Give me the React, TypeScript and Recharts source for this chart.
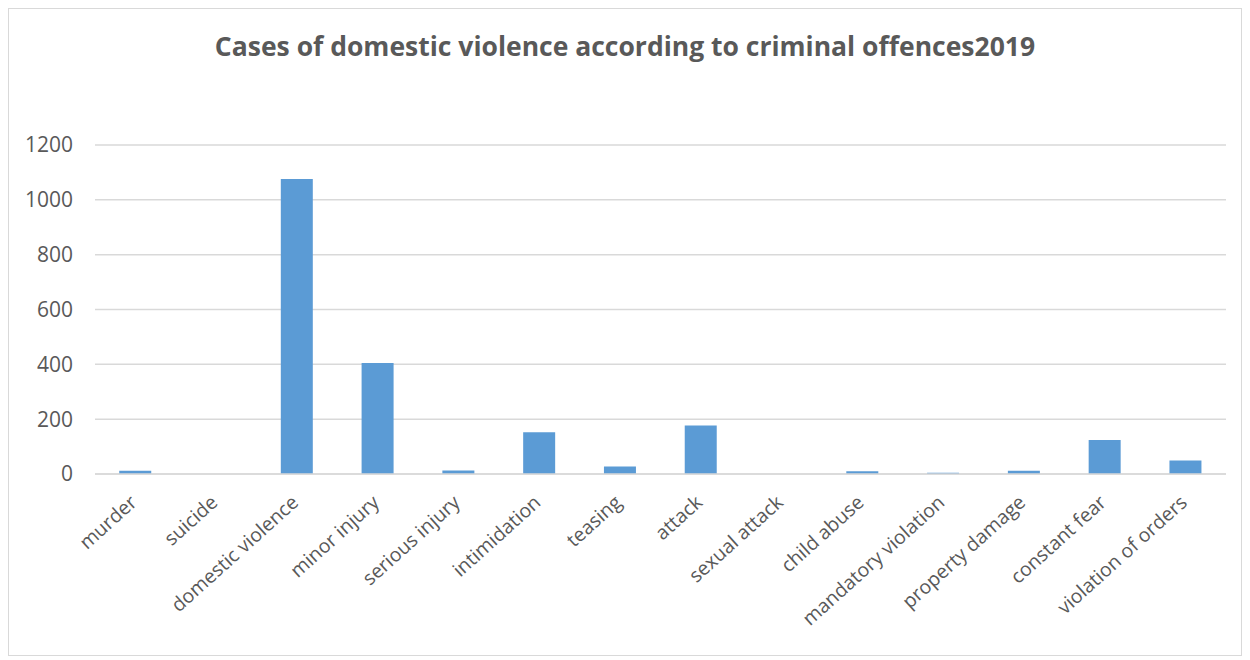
import React from "react";
import { Bar, BarChart, CartesianGrid, XAxis, YAxis } from "recharts";

const categories = [
  "murder",
  "suicide",
  "domestic violence",
  "minor injury",
  "serious injury",
  "intimidation",
  "teasing",
  "attack",
  "sexual attack",
  "child abuse",
  "mandatory violation",
  "property damage",
  "constant fear",
  "violation of orders",
];
const cases = [12, 0, 1076, 405, 13, 152, 27, 177, 0, 10, 5, 12, 124, 49];
const yTicks = [0, 200, 400, 600, 800, 1000, 1200];

const data = categories.map((name, i) => ({ name, cases: cases[i] }));

const FONT = "'Open Sans', 'Noto Sans', sans-serif";
const TEXT = "#595959";

function AngledTick({ x, y, payload }: any) {
  return (
    <g transform={`translate(${x - 2},${y + 17})`}>
      <text textAnchor="end" transform="rotate(-42)" fontSize={19.5} fill={TEXT} fontFamily={FONT} dy={7}>
        {payload.value}
      </text>
    </g>
  );
}

export default function App() {
  return (
    <div
      style={{
        position: "relative",
        width: 1232,
        height: 646,
        border: "1px solid #d9d9d9",
        background: "#fff",
      }}
    >
      <div
        style={{
          position: "absolute",
          top: 19,
          left: 0,
          width: "100%",
          textAlign: "center",
          fontFamily: FONT,
          fontWeight: 700,
          fontSize: 26.5,
          color: TEXT,
        }}
      >
        Cases of domestic violence according to criminal offences2019
      </div>
      <BarChart
        width={1232}
        height={646}
        data={data}
        margin={{ top: 136, right: 15, bottom: 0, left: 0 }}
        barCategoryGap="30%"
      >
        <CartesianGrid vertical={false} stroke="#d9d9d9" strokeWidth={1.5} />
        <XAxis
          dataKey="name"
          interval={0}
          height={181}
          tick={<AngledTick />}
          tickLine={false}
          axisLine={{ stroke: "#d9d9d9", strokeWidth: 1.5 }}
        />
        <YAxis
          width={86}
          domain={[0, 1200]}
          ticks={yTicks}
          tickLine={false}
          axisLine={false}
          tickMargin={16}
          tick={{ fontSize: 21, fill: TEXT, fontFamily: FONT }}
        />
        <Bar dataKey="cases" fill="#5b9bd5" isAnimationActive={false} />
      </BarChart>
    </div>
  );
}
